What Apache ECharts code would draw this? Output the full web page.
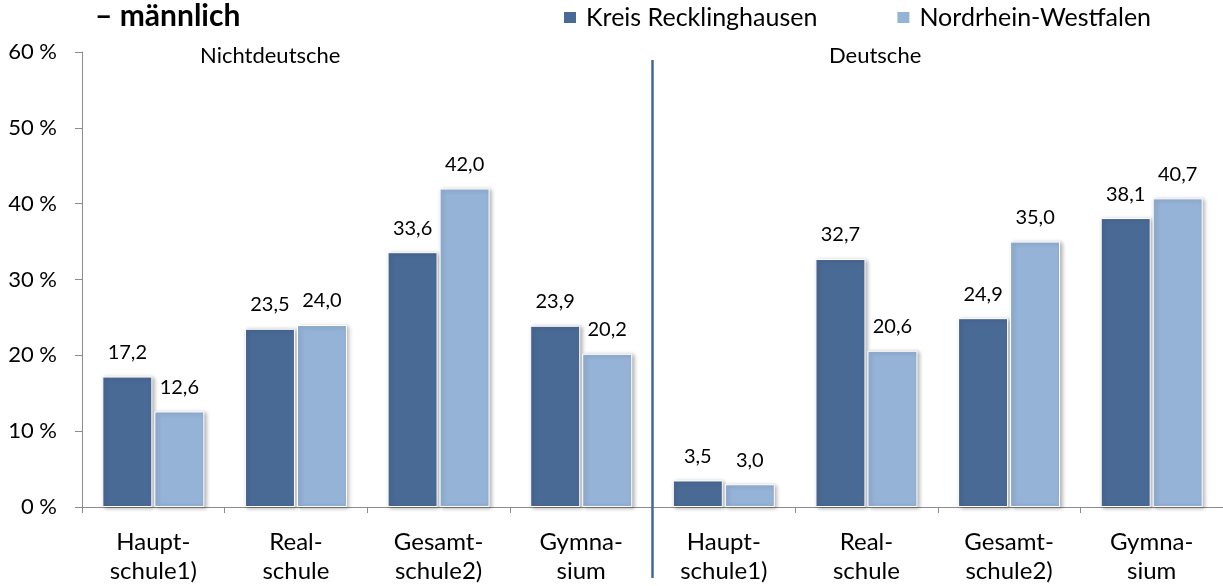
<!DOCTYPE html>
<html>
<head>
<meta charset="utf-8">
<script src="https://cdn.jsdelivr.net/npm/echarts@6/dist/echarts.min.js"></script>
<style>
  html, body { margin: 0; padding: 0; background: #fff; }
  #chart { width: 1223px; height: 586px; }
</style>
</head>
<body>
<div id="chart"></div>
<script>
// categories: Nichtdeutsche (4) then Deutsche (4)
const categories = [
  "Haupt-\nschule1)", "Real-\nschule", "Gesamt-\nschule2)", "Gymna-\nsium",
  "Haupt-\nschule1)", "Real-\nschule", "Gesamt-\nschule2)", "Gymna-\nsium"
];
const kreisValues = [17.2, 23.5, 33.6, 23.9, 3.5, 32.7, 24.9, 38.1];
const nrwValues = [12.6, 24.0, 42.0, 20.2, 3.0, 20.6, 35.0, 40.7];
const yTicks = [0, 10, 20, 30, 40, 50, 60];

const font = "Lato, 'Open Sans', sans-serif";
const axisGray = "#8c8c8c";

const chart = echarts.init(document.getElementById("chart"));

function barSeries(name, data, color) {
  return {
    name: name,
    type: "bar",
    data: data,
    barWidth: 50,
    barGap: "4%",
    itemStyle: {
      color: color,
      borderColor: "#ffffff",
      borderWidth: 1,
      shadowColor: "rgba(0,0,0,0.3)",
      shadowBlur: 4,
      shadowOffsetX: 2,
      shadowOffsetY: 1
    },
    label: {
      show: true,
      position: "top",
      distance: 14,
      color: "#000",
      fontFamily: font,
      fontSize: 20,
      formatter: p => p.value.toFixed(1).replace(".", ",")
    }
  };
}

const option = {
  animation: false,
  textStyle: { fontFamily: font },
  title: [
    {
      text: "– männlich",
      left: 90,
      top: -4,
      textStyle: { fontSize: 30, fontWeight: "bold", color: "#000", fontFamily: font }
    },
    {
      text: "Nichtdeutsche",
      left: 195,
      top: 40,
      textStyle: { fontSize: 22, fontWeight: "normal", color: "#000", fontFamily: font }
    },
    {
      text: "Deutsche",
      left: 824,
      top: 40,
      textStyle: { fontSize: 22, fontWeight: "normal", color: "#000", fontFamily: font }
    }
  ],
  legend: {
    left: 557,
    top: 0,
    itemWidth: 14,
    itemHeight: 13,
    itemGap: 78,
    icon: "rect",
    textStyle: { fontSize: 25, color: "#000", fontFamily: font, padding: [0, 0, 0, 4] },
    data: ["Kreis Recklinghausen", "Nordrhein-Westfalen"]
  },
  grid: { left: 82, right: 0, top: 52, bottom: 77 },
  xAxis: {
    type: "category",
    data: categories,
    axisLine: { lineStyle: { color: axisGray, width: 1 } },
    axisTick: { show: true, length: 6, lineStyle: { color: axisGray } },
    axisLabel: {
      color: "#000",
      fontSize: 24,
      lineHeight: 29,
      margin: 21,
      fontFamily: font
    }
  },
  yAxis: {
    type: "value",
    min: yTicks[0],
    max: yTicks[yTicks.length - 1],
    interval: 10,
    splitLine: { show: false },
    axisLine: { show: true, lineStyle: { color: axisGray, width: 1 } },
    axisTick: { show: true, length: 7, lineStyle: { color: axisGray } },
    axisLabel: {
      color: "#000",
      fontSize: 22,
      margin: 25,
      fontFamily: font,
      formatter: "{value} %"
    }
  },
  series: [
    barSeries("Kreis Recklinghausen", kreisValues, "#4a6a96"),
    barSeries("Nordrhein-Westfalen", nrwValues, "#95b3d7")
  ]
};

chart.setOption(option);

// separator between the two groups, placed from the category scale
const x3 = chart.convertToPixel({ xAxisIndex: 0 }, 3);
const x4 = chart.convertToPixel({ xAxisIndex: 0 }, 4);
const sepX = (x3 + x4) / 2;
chart.setOption({
  graphic: [{
    type: "line",
    shape: { x1: sepX, y1: 60, x2: sepX, y2: 578 },
    style: { stroke: "#44689a", lineWidth: 2.5 },
    z: 10
  }]
});
</script>
</body>
</html>
